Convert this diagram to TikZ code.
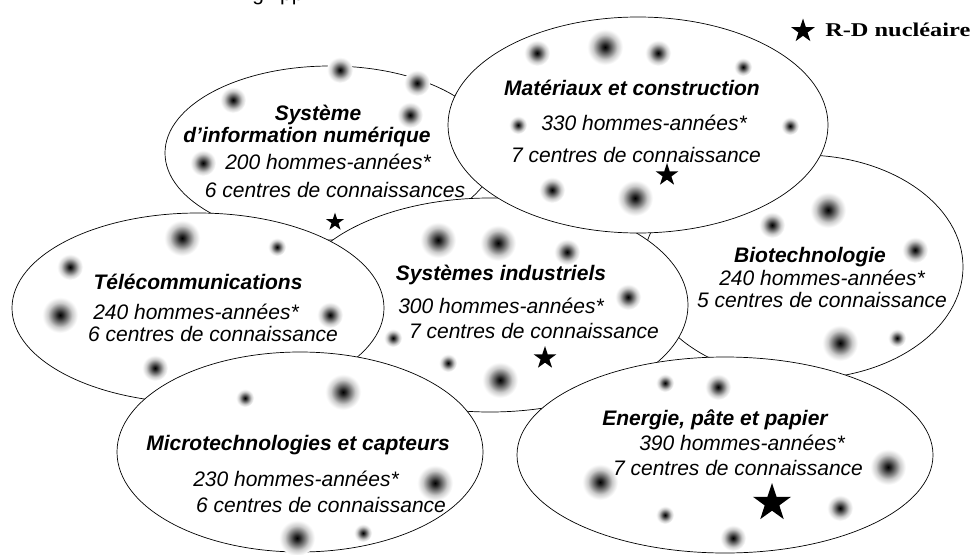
\documentclass[tikz,border=0pt]{standalone}
\usepackage{fontspec}
\setmainfont{Liberation Sans}
\newfontfamily\legendfont{Liberation Serif}
\usetikzlibrary{shapes.geometric}
\pgfdeclareradialshading{blobshade}{\pgfpoint{0bp}{0bp}}{%
  color(0bp)=(black); color(4bp)=(black!85); color(10bp)=(black!55);
  color(17bp)=(black!20); color(23bp)=(black!4); color(25bp)=(white); color(50bp)=(white)}
\tikzset{
  zone/.style={ellipse, draw=black, line width=0.7pt, fill=white, inner sep=0pt},
  ttl/.style={anchor=base, inner sep=0pt, font=\fontsize{21}{24}\selectfont\bfseries\itshape},
  info/.style={anchor=base, inner sep=0pt, font=\fontsize{21}{24}\selectfont\itshape},
  rdstar/.style={star, star points=5, star point ratio=2.6, fill=black, draw=none, inner sep=0pt}
}
\newcommand{\blobS}[2]{\shade[shading=blobshade] (#1,#2) circle (9pt);}
\newcommand{\blobM}[2]{\shade[shading=blobshade] (#1,#2) circle (13pt);}
\newcommand{\blobL}[2]{\shade[shading=blobshade] (#1,#2) circle (18pt);}
\begin{document}
\begin{tikzpicture}[x=1pt,y=-1pt]
\useasboundingbox (0,0) rectangle (974,554);
% fragment of cut-off text at top
\node[anchor=base, inner sep=0pt, font=\fontsize{21}{24}\selectfont] (frag) at (278,1) {g\hspace{16pt}pp};
% ellipses, back to front
\node[zone, minimum width=330pt, minimum height=174pt] (sid) at (330,153) {};
\node[zone, minimum width=320pt, minimum height=224pt] (bio) at (803,267) {};
\node[zone, minimum width=396pt, minimum height=214pt] (sind) at (490,305) {};
\node[zone, minimum width=380pt, minimum height=216pt] (mat) at (638,125) {};
\node[zone, minimum width=372pt, minimum height=190pt] (tel) at (198,308) {};
\node[zone, minimum width=366pt, minimum height=200pt] (mic) at (300,452) {};
\node[zone, minimum width=416pt, minimum height=196pt] (ene) at (725,455) {};
% blobs
\blobM{340}{70}\blobM{417}{83}\blobM{233}{100}\blobM{410}{115}\blobM{203}{163}
\blobM{537}{53}\blobL{605}{47}\blobM{658}{53}\blobS{743}{67}\blobS{518}{125}\blobM{552}{190}\blobL{635}{198}\blobS{790}{126}
\blobL{182}{238}\blobS{277}{247}\blobM{70}{267}\blobL{60}{315}\blobM{330}{315}\blobM{155}{368}
\blobL{438}{240}\blobL{498}{243}\blobM{567}{252}\blobM{628}{297}\blobS{393}{338}\blobS{448}{363}\blobL{500}{380}
\blobL{828}{210}\blobM{772}{225}\blobM{915}{250}\blobL{840}{343}\blobS{897}{338}
\blobL{343}{392}\blobS{245}{398}\blobL{435}{483}\blobL{297}{538}\blobS{363}{533}
\blobS{665}{383}\blobM{718}{387}\blobL{600}{482}\blobL{888}{467}\blobM{840}{508}\blobS{665}{515}\blobM{733}{538}
% black stars
\node[rdstar, minimum size=19pt] (s1) at (335,222) {};
\node[rdstar, minimum size=24pt] (s2) at (667,175) {};
\node[rdstar, minimum size=24pt] (s3) at (545,358) {};
\node[rdstar, minimum size=40pt] (s4) at (772,503) {};
% texts
\node[ttl] (t1a) at (318,120) {Système};
\node[ttl] (t1b) at (307,142) {d’information numérique};
\node[info] (t1c) at (328,169) {200 hommes-années*};
\node[info] (t1d) at (335,197) {6 centres de connaissances};
\node[ttl] (t2a) at (632,95) {Matériaux et construction};
\node[info] (t2b) at (644,130) {330 hommes-années*};
\node[info] (t2c) at (636,162) {7 centres de connaissance};
\node[ttl] (t3a) at (198,289) {Télécommunications};
\node[info] (t3b) at (196,319) {240 hommes-années*};
\node[info] (t3c) at (213,341) {6 centres de connaissance};
\node[ttl] (t4a) at (501,280) {Systèmes industriels};
\node[info] (t4b) at (501,313) {300 hommes-années*};
\node[info] (t4c) at (534,338) {7 centres de connaissance};
\node[ttl] (t5a) at (810,262) {Biotechnologie};
\node[info] (t5b) at (822,285) {240 hommes-années*};
\node[info] (t5c) at (822,307) {5 centres de connaissance};
\node[ttl] (t6a) at (298,450) {Microtechnologies et capteurs};
\node[info] (t6b) at (296,486) {230 hommes-années*};
\node[info] (t6c) at (321,512) {6 centres de connaissance};
\node[ttl] (t7a) at (715,425) {Energie, pâte et papier};
\node[info] (t7b) at (742,450) {390 hommes-années*};
\node[info] (t7c) at (738,475) {7 centres de connaissance};
% legend
\node[rdstar, minimum size=25pt] (ls) at (803,31) {};
\node[anchor=base west, inner sep=0pt, xscale=1.25, font=\legendfont\fontsize{19.5}{22}\selectfont\bfseries] (lt) at (825,36) {R-D nucléaire};
\end{tikzpicture}
\end{document}
